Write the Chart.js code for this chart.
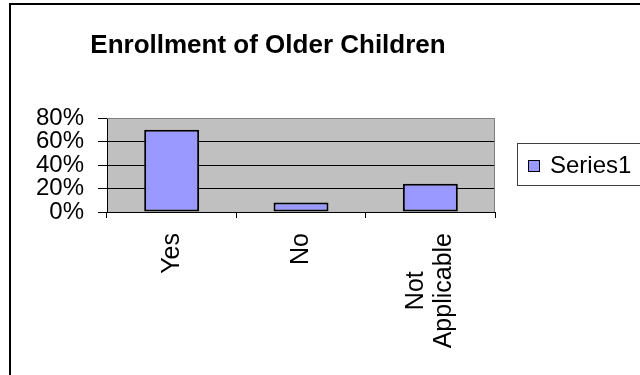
<!DOCTYPE html>
<html>
<head>
<meta charset="utf-8">
<script src="https://cdn.jsdelivr.net/npm/chart.js@4/dist/chart.umd.min.js"></script>
<style>
  html, body { margin: 0; padding: 0; background: #fff; overflow: hidden; }
  #frame { position: absolute; left: 9px; top: 3px; width: 800px; height: 500px; border: 2px solid #000; }
  #wrap { position: absolute; left: 0; top: 0; width: 640px; height: 375px; }
</style>
</head>
<body>
<div id="frame"></div>
<div id="wrap"><canvas id="enrollChart" width="640" height="375"></canvas></div>
<script>
// Chart data
const chartTitle = 'Enrollment of Older Children';
const categories = ['Yes', 'No', ['Not', 'Applicable']];
const seriesName = 'Series1';
const seriesValues = [70, 8, 24];
const yTicks = [0, 20, 40, 60, 80];

const FONT = "'Liberation Sans', Arial, sans-serif";
const BAR_FILL = '#9999FF';

// Grey plot background and frame, vertical category labels, title and boxed legend
const excelLook = {
    id: 'excelLook',
    beforeDraw(chart) {
        const { ctx, chartArea: a } = chart;
        ctx.save();
        ctx.fillStyle = '#C0C0C0';
        ctx.fillRect(a.left, a.top, a.right - a.left, a.bottom - a.top);
        ctx.restore();
    },
    beforeDatasetsDraw(chart) {
        const { ctx, chartArea: a } = chart;
        ctx.save();
        ctx.strokeStyle = '#808080';
        ctx.lineWidth = 1;
        ctx.beginPath();
        ctx.moveTo(a.left, a.top + 0.5);
        ctx.lineTo(a.right - 0.5, a.top + 0.5);
        ctx.lineTo(a.right - 0.5, a.bottom);
        ctx.stroke();
        ctx.restore();
    },
    afterDraw(chart) {
        const ctx = chart.ctx;
        const xs = chart.scales.x;
        ctx.save();

        // category labels, read bottom-to-top, lines centred on each other
        ctx.fillStyle = '#000';
        ctx.font = '25px ' + FONT;
        ctx.textAlign = 'center';
        ctx.textBaseline = 'alphabetic';
        chart.data.labels.forEach((lbl, i) => {
            const lines = Array.isArray(lbl) ? lbl : [lbl];
            const maxW = Math.max(...lines.map(l => ctx.measureText(l).width));
            const cx = xs.getPixelForTick(i);
            const cy = xs.top + 21 + maxW / 2;
            lines.forEach((line, j) => {
                const off = 7 + (j - (lines.length - 1) / 2) * 28;
                ctx.save();
                ctx.translate(cx + off, cy);
                ctx.rotate(-Math.PI / 2);
                ctx.fillText(line, 0, 0);
                ctx.restore();
            });
        });

        // title
        ctx.font = 'bold 26px ' + FONT;
        ctx.fillText(chartTitle, 268, 53);

        // legend box
        const ds = chart.data.datasets[0];
        ctx.strokeStyle = '#404040';
        ctx.lineWidth = 1;
        ctx.strokeRect(517.5, 143.5, 200, 42);
        ctx.fillStyle = ds.backgroundColor;
        ctx.fillRect(528, 160, 12, 12);
        ctx.strokeStyle = '#000';
        ctx.strokeRect(528.5, 160.5, 11, 11);
        ctx.fillStyle = '#000';
        ctx.font = '24px ' + FONT;
        ctx.textAlign = 'left';
        ctx.textBaseline = 'middle';
        ctx.fillText(ds.label, 550, 166);
        ctx.restore();
    }
};

const ctx = document.getElementById('enrollChart').getContext('2d');
new Chart(ctx, {
    type: 'bar',
    data: {
        labels: categories,
        datasets: [{
            label: seriesName,
            data: seriesValues,
            backgroundColor: BAR_FILL,
            borderColor: '#000',
            borderWidth: 2,
            borderSkipped: false,
            barPercentage: 0.425,
            categoryPercentage: 1
        }]
    },
    options: {
        responsive: false,
        animation: false,
        layout: { padding: { left: 0, top: 118, right: 145, bottom: 0 } },
        plugins: {
            legend: { display: false },
            title: { display: false },
            tooltip: { enabled: false }
        },
        scales: {
            x: {
                afterFit: s => { s.height = 163; },
                grid: {
                    offset: true,
                    drawOnChartArea: false,
                    drawTicks: true,
                    tickLength: 6,
                    tickColor: '#000',
                    color: '#000'
                },
                border: { display: true, color: '#000', width: 1 },
                ticks: { display: false, autoSkip: false }
            },
            y: {
                min: 0,
                max: 80,
                afterFit: s => { s.width = 107; },
                afterBuildTicks: s => { s.ticks = yTicks.map(v => ({ value: v })); },
                grid: {
                    color: c => (c.tick && c.tick.value === 80) ? '#808080' : '#000',
                    tickColor: '#000',
                    tickLength: 9,
                    lineWidth: 1
                },
                border: { display: true, color: '#000', width: 1 },
                ticks: {
                    color: '#000',
                    font: { family: FONT, size: 24 },
                    autoSkip: false,
                    padding: 14,
                    callback: v => v + '%'
                }
            }
        }
    },
    plugins: [excelLook]
});
</script>
</body>
</html>
